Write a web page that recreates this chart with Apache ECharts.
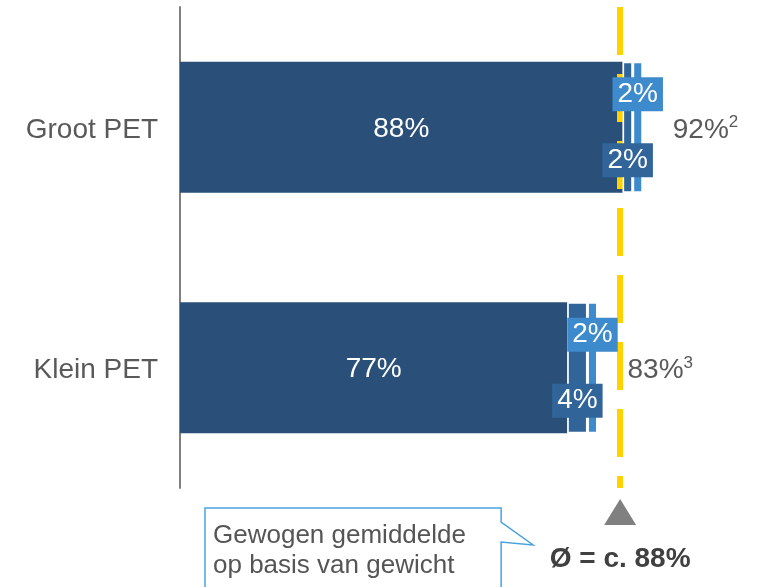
<!DOCTYPE html>
<html>
<head>
<meta charset="utf-8">
<script src="https://cdn.jsdelivr.net/npm/echarts@6/dist/echarts.min.js"></script>
<style>
html,body{margin:0;padding:0;background:#fff;}
#c{width:760px;height:587px;}
</style>
</head>
<body>
<div id="c"></div>
<script>
// Data
var categories = ["Groot PET", "Klein PET"];
var baseShare = [88, 77];
var midShare = [2, 4];
var lightShare = [2, 2];
var totals = [92, 83];
var totalNotes = ["2", "3"];
var avgValue = 87.5;
var avgLabel = "Ø = c. 88%";
var calloutText = "Gewogen gemiddelde\nop basis van gewicht";

var FONT = "Liberation Sans, Arial, sans-serif";
var C_DARK = "#2a5079";
var C_MID = "#31659a";
var C_LIGHT = "#3d8bcd";

var chart = echarts.init(document.getElementById('c'), null, {renderer: 'canvas'});

function boxLabel(color, dy) {
  return {
    show: true, position: 'inside', offset: [0, dy],
    formatter: '{c}%', color: '#fff', fontSize: 28, fontFamily: FONT,
    backgroundColor: color, padding: [3, 5, 3, 5]
  };
}

var option = {
  animation: false,
  grid: {left: 180, right: 77, top: 7, bottom: 99},
  xAxis: {type: 'value', min: 0, max: 100, show: false},
  yAxis: {
    type: 'category', data: categories, inverse: true,
    axisLine: {show: true, lineStyle: {color: '#808080', width: 2}},
    axisTick: {show: false},
    axisLabel: {
      margin: 22,
      formatter: function (v) { return '{a|' + v + '}'; },
      rich: {a: {fontSize: 28, color: '#595959', fontFamily: FONT, padding: [6, 0, 0, 0]}}
    }
  },
  series: [
    {
      name: 'base', type: 'bar', stack: 's', data: baseShare, barWidth: 131, z: 2,
      itemStyle: {color: C_DARK},
      label: {show: true, position: 'inside', offset: [0, 2], formatter: '{c}%', color: '#fff', fontSize: 28, fontFamily: FONT}
    },
    {
      name: 'mid', type: 'bar', stack: 's', data: midShare, barWidth: 131, z: 6,
      itemStyle: {color: C_MID, borderColor: '#fff', borderWidth: 1.5},
      label: boxLabel(C_MID, 33)
    },
    {
      name: 'light', type: 'bar', stack: 's', data: lightShare, barWidth: 131, z: 6,
      itemStyle: {color: C_LIGHT, borderColor: '#fff', borderWidth: 1.5},
      label: boxLabel(C_LIGHT, -33)
    },
    {
      name: 'total', type: 'bar', data: totals, barWidth: 131, barGap: '-100%', silent: true, z: 3,
      itemStyle: {color: 'rgba(0,0,0,0)'},
      label: {
        show: true, position: 'right', distance: 30, offset: [0, 3],
        formatter: function (p) { return '{v|' + p.value + '%}{s|' + totalNotes[p.dataIndex] + '}'; },
        rich: {
          v: {fontSize: 28, color: '#595959', fontFamily: FONT, lineHeight: 32},
          s: {fontSize: 17, color: '#595959', fontFamily: FONT, verticalAlign: 'top', lineHeight: 20}
        }
      },
      markLine: {
        silent: true, z: 3, symbol: ['none', 'none'],
        label: {show: false},
        lineStyle: {color: '#FFD200', width: 6, type: [48, 19]},
        data: [{xAxis: avgValue}]
      }
    }
  ]
};
chart.setOption(option);

var px = chart.convertToPixel({xAxisIndex: 0}, avgValue);
var gridBottom = 587 - 99;
chart.setOption({
  graphic: [
    {
      type: 'polygon', silent: true,
      shape: {points: [[px - 16, gridBottom + 37], [px + 16, gridBottom + 37], [px, gridBottom + 11]]},
      style: {fill: '#808080'}
    },
    {
      type: 'text', silent: true, x: px, y: gridBottom + 71,
      style: {text: avgLabel, fontSize: 28, fontWeight: 'bold', fill: '#404040', fontFamily: FONT, align: 'center', verticalAlign: 'middle'}
    },
    {
      type: 'polygon', silent: true,
      shape: {points: [[205, 508], [px - 119, 508], [px - 119, 522], [px - 87, 545], [px - 119, 542], [px - 119, 600], [205, 600]]},
      style: {fill: '#fff', stroke: '#4aa3df', lineWidth: 1.5}
    },
    {
      type: 'text', silent: true, x: 213, y: 521,
      style: {text: calloutText, fontSize: 26, lineHeight: 30, fill: '#555555', fontFamily: FONT, verticalAlign: 'top'}
    }
  ]
});
</script>
</body>
</html>
